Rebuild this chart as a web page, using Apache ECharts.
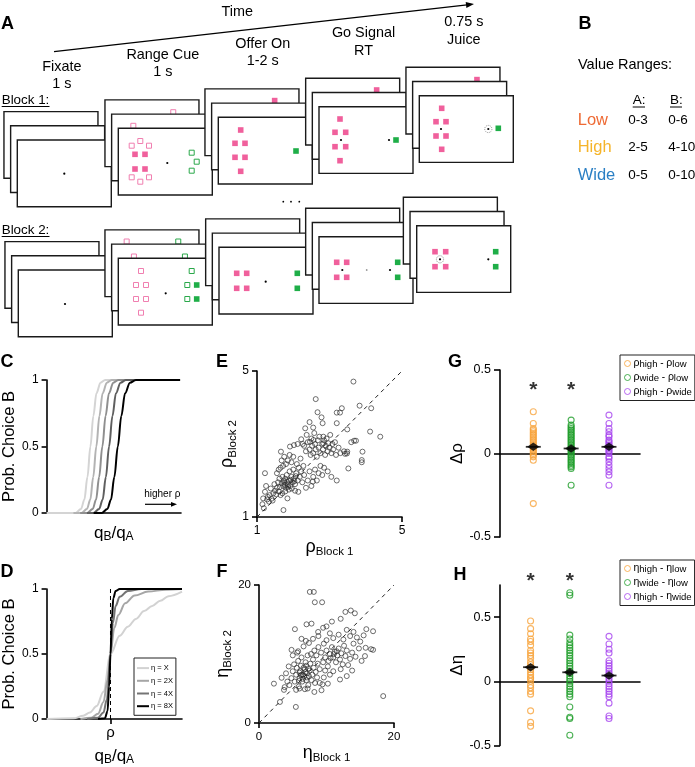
<!DOCTYPE html>
<html><head><meta charset="utf-8">
<script src="https://cdn.jsdelivr.net/npm/echarts@6/dist/echarts.min.js"></script>
<style>html,body{margin:0;padding:0;background:#fff}#c{width:695px;height:767px}</style>
</head><body><div id="c"></div>
<script>
const FONT = "'Liberation Sans', Arial, sans-serif";

// ---------------- Panel A text ----------------
const epochLabels = [['Fixate','1 s'],['Range Cue','1 s'],['Offer On','1-2 s'],['Go Signal','RT'],['0.75 s','Juice']];
const blockLabels = ['Block 1:','Block 2:'];
const timeLabel = 'Time';

// ---------------- Panel B ----------------
const rangeNames = ['Low','High','Wide'];
const rangeColors = ['#ee6a34','#f5b42a','#2a7fc4'];
const rangesA = ['0-3','2-5','0-5'];
const rangesB = ['0-6','4-10','0-10'];

// ---------------- Panel C (x = qB/qA scaled 0..1, y = P(B)) ----------------
const cCurve1 = [[0,0],[0.216,0],[0.256,0.03],[0.281,0.1],[0.304,0.27],[0.326,0.5],[0.348,0.73],[0.371,0.9],[0.401,0.98],[0.436,1],[0.993,1]];
const cCurve2 = [[0.2,0],[0.26,0],[0.3,0.03],[0.325,0.1],[0.347,0.27],[0.37,0.5],[0.393,0.73],[0.417,0.9],[0.448,0.98],[0.485,1],[0.993,1]];
const cCurve3 = [[0.25,0],[0.302,0],[0.343,0.03],[0.368,0.1],[0.391,0.27],[0.415,0.5],[0.439,0.73],[0.464,0.9],[0.496,0.98],[0.535,1],[0.993,1]];
const cCurve4 = [[0.3,0],[0.349,0],[0.391,0.03],[0.417,0.1],[0.441,0.27],[0.465,0.5],[0.49,0.73],[0.516,0.9],[0.55,0.98],[0.59,1],[0.993,1]];
const cCurve5 = [[0.35,0],[0.41,0],[0.452,0.03],[0.479,0.1],[0.504,0.27],[0.53,0.5],[0.556,0.73],[0.584,0.9],[0.62,0.98],[0.665,1],[0.993,1]];
const cColors = ['#d4d4d4','#b3b3b3','#8f8f8f','#5f5f5f','#000000'];

// ---------------- Panel D ----------------
const dNames = ['η = X','η = 2X','η = 4X','η = 8X'];
const dCurveX  = [[0,0],[0.2,0.005],[0.27,0.025],[0.32,0.05],[0.37,0.1],[0.42,0.21],[0.472,0.5],[0.54,0.64],[0.6,0.71],[0.66,0.77],[0.72,0.83],[0.78,0.87],[0.84,0.91],[0.9,0.945],[1,0.98]];
const dCurve2X = [[0.25,0],[0.33,0.01],[0.38,0.04],[0.42,0.13],[0.45,0.3],[0.472,0.5],[0.5,0.7],[0.53,0.8],[0.58,0.89],[0.65,0.95],[0.75,0.98],[0.88,0.995],[1,1]];
const dCurve4X = [[0.3,0],[0.38,0.01],[0.42,0.05],[0.445,0.15],[0.472,0.5],[0.49,0.74],[0.51,0.87],[0.54,0.94],[0.6,0.985],[0.7,1],[1,1]];
const dCurve8X = [[0.38,0],[0.43,0.005],[0.45,0.06],[0.462,0.25],[0.472,0.5],[0.482,0.77],[0.493,0.93],[0.51,0.985],[0.54,1],[1,1]];
const dColors = ['#d2d2d2','#a6a6a6','#747474','#000000'];
const rhoPos = 0.472;

// ---------------- Panel E: rho block1 vs block2 ----------------
const rhoPairs = [
[1.22,2.20],[1.25,1.85],[1.22,1.69],[1.17,1.51],[1.19,1.24],[1.15,1.35],[1.73,1.19],[1.84,1.51],[2.14,1.69],[2.05,1.72],[2.54,1.97],
[1.30,1.55],[1.35,1.60],[1.40,1.50],[1.28,1.48],[1.45,1.65],[1.50,1.72],[1.38,1.78],[1.55,1.80],[1.60,1.70],[1.48,1.90],[1.58,1.95],[1.62,2.05],[1.66,2.79],[1.65,2.35],[1.70,2.10],[1.72,1.85],[1.75,1.95],[1.78,2.05],[1.80,1.80],[1.82,2.15],[1.85,1.90],[1.88,2.00],[1.90,2.25],[1.92,1.85],[1.95,2.10],[1.98,1.95],[2.00,2.30],[2.02,2.05],[2.05,1.90],[2.08,2.20],[2.10,2.45],[2.12,2.00],[2.15,2.35],[2.18,2.10],[2.20,2.60],[2.22,2.25],[2.25,1.95],[2.28,2.40],[2.30,2.15],[1.68,2.55],[1.75,2.65],[1.80,2.45],[1.85,2.55],[1.90,2.70],[1.95,2.50],[2.00,2.65],[1.72,2.40],[1.60,2.30],[1.55,2.20],[1.78,1.70],[1.70,1.65],[1.65,1.60],[1.88,1.75],[2.35,1.80],[2.40,2.00],[2.45,2.25],[2.50,1.85],[2.55,2.10],[2.60,2.30],[2.65,2.00],[2.70,2.20],[2.75,2.40],[2.80,2.15],[2.85,2.35],[2.95,2.25],[3.05,2.10],[3.20,2.00],[3.52,2.33],
[1.77,1.88],[1.83,1.97],[1.86,1.83],[1.93,2.02],[1.74,2.00],[1.96,1.78],[1.68,1.92],[1.63,1.82],[2.03,1.98],[1.53,1.62],[1.43,1.45],[1.33,1.42],[2.07,2.12],
[2.33,3.43],[2.37,3.25],[2.30,2.95],[2.35,2.80],[2.40,3.05],[2.45,2.85],[2.48,2.70],[2.50,3.15],[2.52,2.95],[2.55,2.75],[2.58,3.30],[2.60,3.00],[2.62,2.85],[2.65,2.65],[2.68,3.10],[2.70,2.90],[2.72,3.20],[2.75,2.75],[2.78,3.73],[2.81,3.57],[2.80,3.00],[2.82,2.85],[2.85,3.10],[2.88,2.70],[2.90,2.95],[2.92,3.15],[2.95,2.80],[2.97,3.02],[3.00,2.90],[3.02,3.25],[3.05,2.75],[3.08,3.00],[3.10,2.85],[3.15,3.05],[3.18,2.70],[3.20,3.57],[3.20,3.86],[3.29,3.86],[3.34,3.98],[3.25,2.90],[3.30,2.75],[3.40,2.80],[3.43,2.73],[3.49,2.79],[3.49,3.40],[3.60,3.05],[3.68,3.09],[3.73,3.09],[3.83,4.05],[4.15,3.98],[4.12,3.34],[4.40,3.20],[3.91,2.79],[3.89,2.56],[3.89,2.50],[3.66,4.71],[2.62,4.23],[2.67,3.87],[2.45,3.60],[2.55,3.45],[2.22,3.13],[2.26,3.00],[2.12,3.00],[1.91,2.93],[2.02,2.97],[2.46,3.06],[2.56,3.11],[2.83,3.02],[2.83,3.20],[3.48,2.74]
];

// ---------------- Panel F: eta block1 vs block2 ----------------
const etaPairs = [
[7.53,19.0],[8.12,19.0],[8.27,17.5],[9.35,17.5],[12.8,16.1],[13.6,16.3],[14.2,15.9],[7.04,14.3],[7.78,14.4],[5.32,13.6],[10.8,14.7],[10.0,14.0],[12.1,15.1],[15.9,13.6],[16.9,13.3],[6.3,12.2],[6.94,11.9],[8.76,13.2],[4.82,10.6],[5.66,10.2],[16.6,10.7],[16.9,10.6],[15.7,9.7],[18.4,3.9],[5.46,2.33],[2.21,5.7],[3.1,3.05],[3.7,4.8],[3.35,6.55],[4.0,7.2],[9.26,4.75],[10.2,5.7],
[4.5,5.5],[4.8,6.5],[5.0,7.5],[5.2,8.5],[5.3,6.0],[5.5,7.0],[5.6,8.0],[5.8,9.0],[5.9,5.3],[6.0,6.5],[6.1,7.5],[6.2,8.3],[6.3,9.5],[6.4,6.0],[6.5,7.0],[6.6,8.0],[6.7,6.8],[6.8,7.8],[6.9,8.8],[7.0,6.2],[7.1,7.2],[7.2,9.8],[7.3,5.5],[7.4,6.8],[7.5,7.6],[7.6,8.6],[7.7,10.0],[7.8,6.2],[7.9,7.0],[8.0,9.2],[8.1,8.0],[8.2,10.5],[8.3,5.8],[8.4,7.4],[8.5,9.8],[8.6,6.6],[8.7,8.6],[8.8,11.0],[9.0,7.8],[9.2,10.2],[9.4,5.6],[9.5,8.8],[9.6,11.5],[6.0,5.0],[5.5,4.8],[6.8,4.9],[7.2,5.0],[4.2,6.0],[3.8,5.2],[4.4,8.2],[5.0,9.8],[5.8,10.4],[6.6,11.1],[7.4,11.6],[8.0,12.2],[8.8,12.6],[6.0,7.3],[6.3,7.0],[6.5,6.4],[6.9,7.4],[7.1,6.6],[6.2,6.9],[7.3,7.9],[5.9,6.1],[7.0,8.3],
[9.8,9.5],[10.0,10.5],[10.3,9.0],[10.5,10.0],[10.8,11.0],[11.0,9.5],[11.2,10.3],[11.4,8.8],[11.6,9.8],[11.8,10.8],[12.0,9.2],[12.2,10.1],[12.4,8.5],[12.6,11.2],[12.8,9.7],[13.0,10.5],[11.1,10.0],[11.5,10.4],[10.6,9.4],[12.1,7.8],[13.2,8.4],[13.5,9.3],[13.8,10.2],[14.0,11.5],[14.3,9.6],[14.5,12.4],[14.8,10.8],[15.0,11.8],[15.2,9.0],[15.5,12.7],[15.8,10.9],[13.5,12.6],[13.0,13.5],[12.5,12.1],[11.8,12.8],[11.0,12.3],[10.5,13.0],[10.0,12.0],[9.5,13.8],[14.0,13.2],[12.0,6.3],[13.0,6.8],[11.0,7.5],[10.5,7.0],[9.8,7.6],[13.8,7.6],[10.2,8.2],[9.0,5.8],[8.2,4.5],[9.6,6.6]
];

// ---------------- Panel G: delta rho ----------------
const gLabels = [['high','low'],['wide','low'],['high','wide']];
const gHighLow  = [0.25,0.18,0.15,0.14,0.13,0.12,0.11,0.10,0.09,0.08,0.07,0.06,0.05,0.04,0.03,0.02,0.01,0.0,-0.01,-0.02,-0.04,-0.30];
const gWideLow  = [0.20,0.17,0.16,0.15,0.14,0.13,0.12,0.11,0.10,0.09,0.08,0.07,0.06,0.05,0.04,0.03,0.02,0.01,0.0,-0.01,-0.02,-0.03,-0.04,-0.05,-0.06,-0.07,-0.08,-0.09,-0.19];
const gHighWide = [0.23,0.18,0.15,0.13,0.11,0.10,0.08,0.07,0.06,0.05,0.04,0.03,0.02,0.01,0.0,-0.02,-0.03,-0.05,-0.07,-0.09,-0.11,-0.13,-0.19];
const gMeans = [0.04,0.03,0.04];
const gStarCols = [1,2];

// ---------------- Panel H: delta eta ----------------
const hHighLow  = [0.47,0.41,0.37,0.33,0.31,0.28,0.24,0.22,0.20,0.18,0.15,0.13,0.11,0.09,0.07,0.05,0.03,0.02,0.0,-0.03,-0.05,-0.08,-0.10,-0.23,-0.32,-0.35];
const hWideLow  = [0.69,0.67,0.36,0.33,0.30,0.28,0.26,0.24,0.22,0.20,0.18,0.16,0.14,0.12,0.10,0.08,0.06,0.04,0.02,0.0,-0.02,-0.04,-0.06,-0.08,-0.10,-0.12,-0.20,-0.28,-0.29,-0.42];
const hHighWide = [0.35,0.29,0.25,0.22,0.16,0.14,0.12,0.10,0.08,0.06,0.04,0.02,0.0,-0.02,-0.04,-0.06,-0.08,-0.10,-0.12,-0.17,-0.27,-0.29];
const hMeans = [0.11,0.07,0.045];
const hStarCols = [1,2];

const groupColors = ['#f7a23a','#1f9e2a','#a645ef'];

// =============== layout / drawing ===============
const G = [];
function T(x, y, text, o) {
  o = o || {};
  const al = o.al || 'center', va = o.va || 'middle';
  G.push({type:'text', silent:true, style:{x:x, y:y, text:text, fill:o.fill||'#000', fontSize:o.fs||14, fontFamily:FONT, fontWeight:o.fw||'normal', align:al, verticalAlign:va, textAlign:al, textVerticalAlign:va}});
}
function L(x1,y1,x2,y2,o){ o=o||{}; G.push({type:'line', silent:true, shape:{x1:x1,y1:y1,x2:x2,y2:y2}, style:{stroke:o.stroke||'#000', lineWidth:o.lw||1.2, lineDash:o.dash||null}}); }
function R(x,y,w,h,o){ G.push({type:'rect', silent:true, shape:{x:x,y:y,width:w,height:h}, style:{fill:o.fill||'rgba(0,0,0,0)', stroke:o.stroke||null, lineWidth:o.lw||1}}); }
function Cc(cx,cy,r,o){ G.push({type:'circle', silent:true, shape:{cx:cx,cy:cy,r:r}, style:{fill:o.fill||'rgba(0,0,0,0)', stroke:o.stroke||null, lineWidth:o.lw||1, lineDash:o.dash||null}}); }
function arrow(x1,y1,x2,y2,len,hw,lw){
  const dx=x2-x1, dy=y2-y1, d=Math.sqrt(dx*dx+dy*dy), ux=dx/d, uy=dy/d;
  const bx=x2-ux*len, by=y2-uy*len, nx=-uy, ny=ux;
  L(x1,y1,bx+ux*1,by+uy*1,{lw:lw});
  G.push({type:'polygon', silent:true, shape:{points:[[x2,y2],[bx+nx*hw,by+ny*hw],[bx-nx*hw,by-ny*hw]]}, style:{fill:'#000'}});
}

// Panel A schematic
const PINK='#f0609c', PINK_L='#f07fb0', GRN='#1fae48', GRN_L='#2aa84a';
const CW=94, CH=66.7, LDX=6.67, LDY=14.2;
const stackFronts = [
  [[17.3,140],[118.3,128.3],[218.3,117.3],[319,106.7],[419.3,95.7]],
  [[18.3,270],[118.3,258.3],[219,247.3],[319,236.7],[416.7,225.7]]
];
const stackContents = [
 [
  [[0,'d',47,33.7]],
  [[2,'p',68.3,12.3],[1,'p',21.7,11.7],[0,'p',13.4,17.4],[0,'p',22,12.7],[0,'p',30.7,17.4],[0,'P',16.7,26],[0,'P',26.7,26],[0,'P',16.7,40.7],[0,'P',26.7,40.7],[0,'p',13.4,49],[0,'p',22,53.4],[0,'p',30.7,49],[0,'d',49,34.7],[0,'g',73.4,24.4],[0,'g',78.4,33.4],[0,'g',73.4,42.4]],
  [[2,'P',69.7,11.7],[0,'P',22.4,12.7],[0,'P',16.7,26],[0,'P',26.7,26],[0,'P',16.7,40],[0,'P',26.7,40],[0,'P',22.4,54],[0,'G',77.7,33.7]],
  [[2,'P',71,11.7],[0,'P',21,12.3],[0,'P',16,25.6],[0,'P',26.7,25.6],[0,'P',16,40],[0,'P',26.7,40],[0,'P',21,54],[0,'d',22,33.3],[0,'d',70,33.3],[0,'G',77,33.3]],
  [[2,'P',71,12.3],[0,'P',22.4,12.6],[0,'P',16.7,26],[0,'P',26.7,26],[0,'P',16.7,40.3],[0,'P',26.7,40.3],[0,'P',22.4,53.6],[0,'d',21.7,33.3],[0,'c',69,33.3],[0,'G',79,32.6]]
 ],
 [
  [[0,'d',46.7,34]],
  [[2,'p',21.7,11.6],[2,'g',73.3,11.6],[1,'p',22.3,12.4],[1,'g',73.3,12.4],[0,'p',22.7,12.7],[0,'p',17.7,26.7],[0,'p',27.7,26.7],[0,'p',17.7,40.7],[0,'p',27.7,40.7],[0,'p',22.7,54.4],[0,'d',47.4,35],[0,'g',73.4,12.7],[0,'g',69,26.7],[0,'G',78.4,26.7],[0,'g',69,40.7],[0,'G',78.4,40.7]],
  [[0,'P',17.7,26],[0,'P',27.7,26],[0,'P',17.7,41],[0,'P',27.7,41],[0,'d',46.7,34.4],[0,'G',78.3,26],[0,'G',78.3,41]],
  [[0,'P',17.7,25.6],[0,'P',27.7,25.6],[0,'P',17.7,40.6],[0,'P',27.7,40.6],[0,'d',23.3,33.3],[0,'o',47.7,33.3],[0,'d',71,33.3],[0,'G',78.7,25.6],[0,'G',78.7,40.6]],
  [[0,'P',18.3,26],[0,'P',29,26],[0,'P',18.3,41],[0,'P',29,41],[0,'c',23.3,33.6],[0,'d',71.6,33.6],[0,'G',79,26],[0,'G',79,41]]
 ]
];
function drawItem(k,x,y){
  if (k==='P') R(x-2.8,y-2.8,5.6,5.6,{fill:PINK});
  else if (k==='p') R(x-2.5,y-2.5,5,5,{fill:'#fff',stroke:PINK_L,lw:1});
  else if (k==='G') R(x-2.8,y-2.8,5.6,5.6,{fill:GRN});
  else if (k==='g') R(x-2.5,y-2.5,5,5,{fill:'#fff',stroke:GRN_L,lw:1});
  else if (k==='d') Cc(x,y,1.1,{fill:'#000'});
  else if (k==='o') Cc(x,y,0.9,{fill:'#999'});
  else if (k==='c') { Cc(x,y,3.6,{stroke:'#777',lw:0.8,dash:[1,1]}); Cc(x,y,1.1,{fill:'#000'}); }
}
stackFronts.forEach((row,b)=>{
  row.forEach((f,s)=>{
    for (let layer=2; layer>=0; layer--) {
      const x0=f[0]-layer*LDX, y0=f[1]-layer*LDY;
      R(x0,y0,CW,CH,{fill:'#fff',stroke:'#1a1a1a',lw:1.4});
      stackContents[b][s].filter(c=>c[0]===layer).forEach(c=>drawItem(c[1],x0+c[2],y0+c[3]));
    }
  });
});
stackFronts[0].forEach((f,s)=>{
  T(f[0]+44.5, f[1]-73.3, epochLabels[s][0], {fs:14.4});
  T(f[0]+44.5, f[1]-55.8, epochLabels[s][1], {fs:14.4});
});
[[1.7,100],[1.7,230]].forEach((p,i)=>{ T(p[0],p[1],blockLabels[i],{al:'left',fs:13.4}); L(1.7,p[1]+6.5,49.5,p[1]+6.5,{lw:1}); });
T(237.3,12.3,timeLabel,{fs:14.4});
arrow(54,51.7,474,4,8,3,1.3);
[283.3,291,299.3].forEach(x=>Cc(x,201.7,0.9,{fill:'#000'}));
T(7.5,24,'A',{fw:'bold',fs:18});

// Panel B
T(585,24,'B',{fw:'bold',fs:18});
T(578,65,'Value Ranges:',{al:'left',fs:14.5});
T(632.7,100,'A:',{al:'left',fs:13.5}); L(632.7,107,645,107,{lw:1});
T(670,100,'B:',{al:'left',fs:13.5}); L(670,107,682,107,{lw:1});
[120,147.7,175].forEach((y,i)=>{
  T(577.7,y,rangeNames[i],{al:'left',fs:16.5,fill:rangeColors[i]});
  T(628.3,y,rangesA[i],{al:'left',fs:13.5});
  T(668.3,y,rangesB[i],{al:'left',fs:13.5});
});

// panel letters lower
T(7,362,'C',{fw:'bold',fs:18}); T(7,572,'D',{fw:'bold',fs:18});
T(222,362,'E',{fw:'bold',fs:18}); T(222,572,'F',{fw:'bold',fs:18});
T(455,362,'G',{fw:'bold',fs:18}); T(460,575,'H',{fw:'bold',fs:18});
// higher rho annotation
T(162.3,494,'higher ρ',{fs:10});
arrow(145,504.3,177,504.3,6,2.4,1.2);

// =============== axes ===============
function vAxis(o) {
  const a = {
    type:'value', gridIndex:o.grid, min:o.min, max:o.max, splitLine:{show:false},
    axisLine:{show:true, onZero: !!o.onZero, lineStyle:{color:'#000', width:1.6}},
    axisTick:{show: o.ticks !== false, length:o.tickLen||5, lineStyle:{color:'#000', width:1.6}},
    axisLabel:{show: o.labels !== false, color:'#000', fontSize:o.fs||12, fontFamily:FONT, margin:o.margin||8},
    name:o.name||'', nameLocation:'middle', nameGap:o.gap||0,
    nameTextStyle:{color:'#000', fontFamily:FONT, fontSize:o.nfs||14, rich:o.rich||{}}
  };
  if (o.interval!=null) a.interval=o.interval;
  if (o.custom) { a.axisTick.customValues=o.custom; a.axisLabel.customValues=o.custom; }
  if (o.fmt) a.axisLabel.formatter=o.fmt;
  return a;
}
const qRich = {q:{fontSize:17,fontFamily:FONT,lineHeight:20}, s:{fontSize:12,fontFamily:FONT,verticalAlign:'bottom'}};
const qName = '{q|q}{s|B}{q|/q}{s|A}';
const gkRich = {g:{fontSize:18,fontFamily:FONT,lineHeight:22}, s:{fontSize:11.5,fontFamily:FONT,verticalAlign:'bottom'}};
const dRich = {g:{fontSize:17,fontFamily:FONT}};

const xAxes = [
  vAxis({grid:0,min:0,max:1,ticks:false,labels:false,name:qName,rich:qRich,gap:10}),
  vAxis({grid:1,min:0,max:1,custom:[rhoPos],fmt:()=>'ρ',fs:15,margin:6,name:qName,rich:qRich,gap:27}),
  vAxis({grid:2,min:1,max:5,custom:[1,5],name:'{g|ρ}{s|Block 1}',rich:gkRich,gap:8}),
  vAxis({grid:3,min:0,max:20,interval:20,fs:11.5,name:'{g|η}{s|Block 1}',rich:gkRich,gap:11}),
  vAxis({grid:4,min:0.12,max:3.82,ticks:false,labels:false,onZero:true}),
  vAxis({grid:5,min:0.22,max:3.79,ticks:false,labels:false,onZero:true})
];
const yAxes = [
  vAxis({grid:0,min:0,max:1,interval:0.5,name:'Prob. Choice B',nfs:16.5,gap:23}),
  vAxis({grid:1,min:0,max:1,interval:0.5,name:'Prob. Choice B',nfs:16.5,gap:23}),
  vAxis({grid:2,min:1,max:5,custom:[1,5],name:'{g|ρ}{s|Block 2}',rich:gkRich,gap:11}),
  vAxis({grid:3,min:0,max:20,interval:20,fs:11.5,name:'{g|η}{s|Block 2}',rich:gkRich,gap:10}),
  vAxis({grid:4,min:-0.5,max:0.5,interval:0.5,fs:12.5,tickLen:6,margin:9,name:'{g|Δρ}',rich:dRich,gap:23}),
  vAxis({grid:5,min:-0.5,max:0.75,custom:[-0.5,0,0.5],fs:12.5,tickLen:6,margin:9,name:'{g|Δη}',rich:dRich,gap:23})
];

// =============== series ===============
const series = [];
[cCurve1,cCurve2,cCurve3,cCurve4,cCurve5].forEach((d,i)=>series.push({
  type:'line', xAxisIndex:0, yAxisIndex:0, data:d, smooth:0.35, smoothMonotone:'x', symbol:'none',
  color:cColors[i], lineStyle:{color:cColors[i], width:2}, silent:true, z:3+i
}));
series.push({type:'line', xAxisIndex:1, yAxisIndex:1, data:[[rhoPos,0],[rhoPos,1]], symbol:'none', silent:true,
  lineStyle:{color:'#000', width:1, type:[4,3]}, z:2});
[dCurveX,dCurve2X,dCurve4X,dCurve8X].forEach((d,i)=>series.push({
  name:dNames[i], type:'line', xAxisIndex:1, yAxisIndex:1, data:d, smooth:0.35, smoothMonotone:'x', symbol:'none',
  color:dColors[i], lineStyle:{color:dColors[i], width:2}, silent:true, z:3+i
}));
function scatterXY(xi, data){
  return {type:'scatter', xAxisIndex:xi, yAxisIndex:xi, data:data, symbol:'circle', symbolSize:5, silent:true,
    itemStyle:{color:'rgba(0,0,0,0)', borderColor:'#2a2a2a', borderWidth:0.85}, z:3};
}
series.push({type:'line', xAxisIndex:2, yAxisIndex:2, data:[[1,1],[5,5]], symbol:'none', silent:true, lineStyle:{color:'#222', width:1, type:[4,4]}, z:4});
series.push(scatterXY(2, rhoPairs));
series.push({type:'line', xAxisIndex:3, yAxisIndex:3, data:[[0,0],[20,20]], symbol:'none', silent:true, lineStyle:{color:'#222', width:1, type:[4,4]}, z:4});
series.push(scatterXY(3, etaPairs));

const gNames = gLabels.map(p=>'ρ'+p[0]+' - ρ'+p[1]);
const hNames = gLabels.map(p=>'η'+p[0]+' - η'+p[1]);
function strips(ai, groups, names, means, starCols, starY){
  groups.forEach((vals,i)=>series.push({
    name:names[i], type:'scatter', xAxisIndex:ai, yAxisIndex:ai, data:vals.map(v=>[i+1,v]), symbol:'circle', symbolSize:6, silent:true,
    itemStyle:{color:'rgba(0,0,0,0)', borderColor:groupColors[i], borderWidth:1.1}, z:3
  }));
  series.push({type:'scatter', xAxisIndex:ai, yAxisIndex:ai, data:means.map((m,i)=>[i+1,m]), symbol:'rect', symbolSize:[15,1.8], silent:true, itemStyle:{color:'#000'}, z:5});
  series.push({type:'scatter', xAxisIndex:ai, yAxisIndex:ai, data:means.map((m,i)=>[i+1,m]), symbol:'diamond', symbolSize:[12,8.5], silent:true, itemStyle:{color:'#000'}, z:6});
  series.push({type:'scatter', xAxisIndex:ai, yAxisIndex:ai, data:starCols.map(c=>[c,starY]), symbolSize:1, clip:false, silent:true,
    itemStyle:{color:'rgba(0,0,0,0)'}, label:{show:true, position:'inside', formatter:'*', fontSize:21, fontWeight:'bold', fontFamily:FONT, color:'#000'}, z:6});
}
strips(4, [gHighLow,gWideLow,gHighWide], gNames, gMeans, gStarCols, 0.38);
strips(5, [hHighLow,hWideLow,hHighWide], hNames, hMeans, hStarCols, 0.78);

function legendFmt(sym, names){
  return n => { const p = gLabels[names.indexOf(n)]; return '{g|'+sym+'}{s|'+p[0]+'} - {g|'+sym+'}{s|'+p[1]+'}'; };
}
const lgRich = {g:{fontSize:10.5,fontFamily:FONT,lineHeight:12}, s:{fontSize:9.5,fontFamily:FONT,verticalAlign:'bottom'}};
function stripLegend(names, sym, top){
  return {data:names, left:620, top:top, orient:'vertical', itemWidth:6, itemHeight:6, itemGap:2.5, padding:[3,3,3,4],
    borderColor:'#222', borderWidth:1, backgroundColor:'#fff', selectedMode:false, formatter:legendFmt(sym,names),
    itemStyle:{borderWidth:1},
    textStyle:{fontSize:10, fontFamily:FONT, color:'#000', padding:[0,0,0,-2], rich:lgRich}};
}
const legends = [
  {data:dNames, left:134, top:658, orient:'vertical', icon:'rect', itemWidth:12, itemHeight:2, itemGap:2.5, padding:[5,3,4,3],
   borderColor:'#222', borderWidth:1, backgroundColor:'#fff', selectedMode:false, itemStyle:{borderWidth:0},
   textStyle:{fontSize:7.5, fontFamily:FONT, color:'#000', padding:[0,0,0,-3], lineHeight:10.2}},
  stripLegend(gNames,'ρ',355),
  stripLegend(hNames,'η',560)
];

const option = {
  animation:false,
  backgroundColor:'#fff',
  textStyle:{fontFamily:FONT},
  grid:[
    {left:40, top:380, width:141, height:133},
    {left:41, top:589, width:141, height:134},
    {left:257, top:371, width:145, height:146},
    {left:259, top:585, width:135, height:138},
    {left:500, top:370, width:140, height:167},
    {left:500, top:585, width:140, height:160.5}
  ],
  xAxis:xAxes, yAxis:yAxes, legend:legends, series:series,
  graphic:{elements:G}
};
const chart = echarts.init(document.getElementById('c'), null, {renderer:'canvas'});
chart.setOption(option);
</script>
</body></html>
